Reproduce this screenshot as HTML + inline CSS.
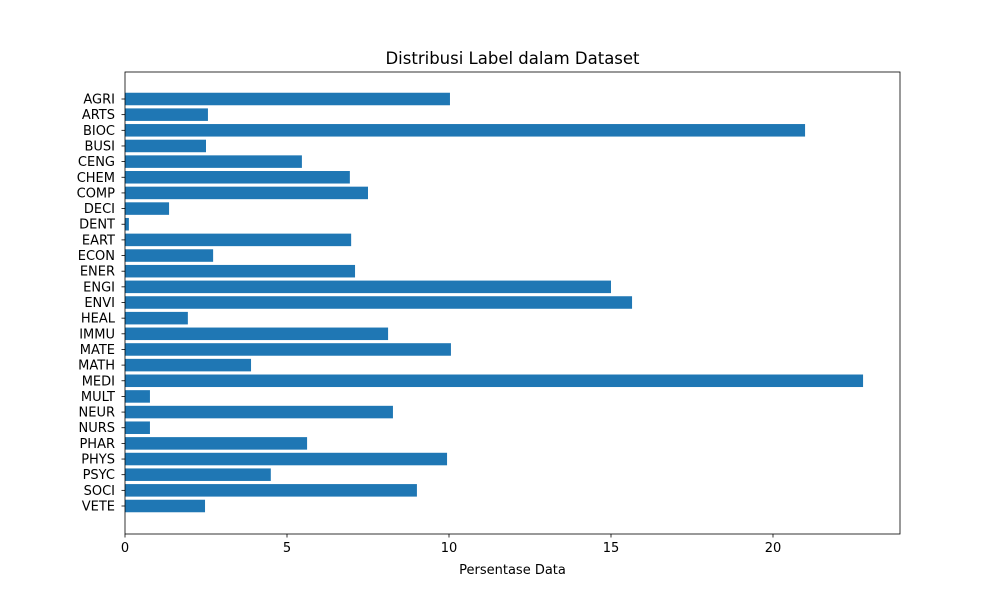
<!DOCTYPE html>
<html><head><meta charset="utf-8"><style>body{margin:0;background:#fff}svg{display:block;font-family:"DejaVu Sans","Liberation Sans",sans-serif}</style></head>
<body>
<svg id="chart" width="1000" height="600"></svg>
<script>
const categories=["AGRI","ARTS","BIOC","BUSI","CENG","CHEM","COMP","DECI","DENT","EART","ECON","ENER","ENGI","ENVI","HEAL","IMMU","MATE","MATH","MEDI","MULT","NEUR","NURS","PHAR","PHYS","PSYC","SOCI","VETE"];
const values=[10.03,2.56,20.99,2.5,5.46,6.94,7.5,1.36,0.12,6.98,2.72,7.1,15.0,15.65,1.94,8.12,10.06,3.89,22.78,0.77,8.27,0.77,5.62,9.94,4.5,9.01,2.47];
const xTicks=[0,5,10,15,20];
const NS="http://www.w3.org/2000/svg";
const svg=document.getElementById('chart');
const L=125,R=900,T=72,B=534,xMax=23.92;
const x=v=>L+v/xMax*(R-L);
const n=categories.length;
const y0=99,y1=506;
const y=i=>y0+i*(y1-y0)/(n-1);
const step=(y1-y0)/(n-1);
function mk(tag,attrs,txt){const e=document.createElementNS(NS,tag);for(const k in attrs)e.setAttribute(k,attrs[k]);if(txt!=null)e.textContent=txt;svg.appendChild(e);return e;}
categories.forEach((c,i)=>{
 const b=mk('rect',{x:x(0),y:y(i)-step*0.4,width:x(values[i])-x(0),height:step*0.8,fill:'#1f77b4'});
 
 
 const t=mk('line',{x1:L-3.5,x2:L,y1:y(i),y2:y(i),stroke:'#000','stroke-width':0.8});
 
 
 const l=mk('text',{x:L-10,y:y(i)+4.5,'text-anchor':'end','font-size':13},c);
 
 
});
xTicks.forEach(v=>{
 const t=mk('line',{x1:x(v),x2:x(v),y1:B,y2:B+3.5,stroke:'#000','stroke-width':0.8});
 
 
 const l=mk('text',{x:x(v),y:B+18,'text-anchor':'middle','font-size':13},String(v));
 
 
});
const f=mk('rect',{x:L,y:T,width:R-L,height:B-T,fill:'none',stroke:'#000','stroke-width':0.8});


const ti=mk('text',{x:(L+R)/2,y:64,'text-anchor':'middle','font-size':16.5},'Distribusi Label dalam Dataset');


const xt=mk('text',{x:(L+R)/2,y:574,'text-anchor':'middle','font-size':13},'Persentase Data');


</script>
</body></html>
